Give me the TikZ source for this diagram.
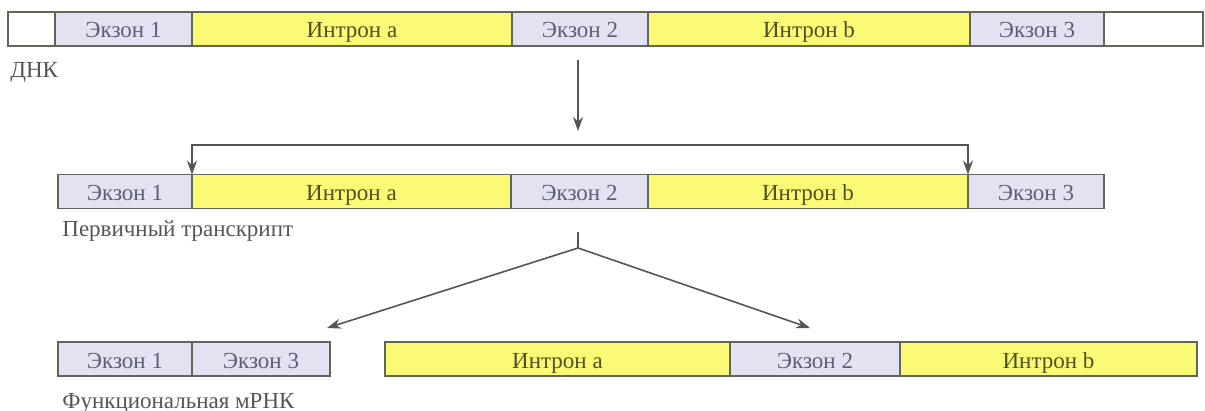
\documentclass[tikz,border=0pt]{standalone}
\usepackage{fontspec}
\setmainfont{Liberation Serif}
\newfontfamily\diagfont{Liberation Serif}
\usetikzlibrary{positioning,arrows.meta}
\definecolor{exonfill}{RGB}{226,226,242}
\definecolor{intronfill}{RGB}{250,250,118}
\definecolor{segline}{RGB}{100,100,88}
\definecolor{exontext}{RGB}{95,95,115}
\definecolor{introntext}{RGB}{80,80,30}
\definecolor{arrowgray}{RGB}{85,85,85}
\tikzset{
  segbox/.style={draw=segline,line width=0.9pt,inner sep=0pt,outer sep=0pt,minimum height=17pt,
    text height=9.5pt,text depth=0.5pt,anchor=west,font=\diagfont\fontsize{11.5}{13}\selectfont},
  exon/.style={segbox,fill=exonfill,text=exontext},
  intron/.style={segbox,fill=intronfill,text=introntext},
  blank/.style={segbox,fill=white},
  rowlabel/.style={inner sep=0pt,text=arrowgray,font=\diagfont\fontsize{11.5}{13}\selectfont},
  flow/.style={draw=arrowgray,line width=0.8pt,-{Stealth[length=7pt,width=5pt]}}
}
\newcommand{\gensegment}[5][exon]{\node[#1,minimum width=#3*0.5pt] at (#2) (#4) {#5}}

\begin{document}
\begin{tikzpicture}[x=0.5pt,y=-0.5pt]
	\useasboundingbox (0,0) rectangle (1205,411);
	% DNA
	\gensegment[blank]{8,29}{47}{d0}{};
	\gensegment{55,29}{137}{d-e1}{Экзон 1};
	\gensegment[intron]{192,29}{320}{d-ia}{Интрон a};
	\gensegment{512,29}{136}{d-e2}{Экзон 2};
	\gensegment[intron]{648,29}{322}{d-ib}{Интрон b};
	\gensegment{970,29}{134}{d-e3}{Экзон 3};
	\gensegment[blank]{1104,29}{99}{d9}{};
	\node[rowlabel,below right=8pt and 1pt of d0.south west] (dna) {ДНК};

	% primary transcript
	\gensegment{58,191.5}{134}{t-e1}{Экзон 1};
	\gensegment[intron]{192,191.5}{319}{t-ia}{Интрон a};
	\gensegment{511,191.5}{137}{t-e2}{Экзон 2};
	\gensegment[intron]{648,191.5}{320}{t-ib}{Интрон b};
	\gensegment{968,191.5}{136}{t-e3}{Экзон 3};
	\node[rowlabel,below right=6pt and 2pt of t-e1.south west] (pre) {Первичный транскрипт};

	% spliced products
	\gensegment{58,359}{134}{m-e1}{Экзон 1};
	\gensegment{192,359}{138}{m-e3}{Экзон 3};
	\gensegment[intron]{385,359}{345}{r-ia}{Интрон a};
	\gensegment{730,359}{170}{r-e2}{Экзон 2};
	\gensegment[intron]{900,359}{297}{r-ib}{Интрон b};
	\node[rowlabel,below right=8.5pt and 2pt of m-e1.south west] (mrna) {Функциональная мРНК};

	\coordinate (split) at (578,145);
	\coordinate (fork) at (578,248);
	\coordinate (tomrna) at (327,328);
	\coordinate (tointr) at (810,328);

	\draw[flow] (d-e2.south -| split) ++(0,14) -- ([yshift=7pt]split);
	\draw[flow] (split) -| (t-e1.north east);
	\draw[flow] (split) -| (t-e3.north west);
	\draw[flow,-] (t-e2.south -| fork) ++(0,24) -- (fork);
	\draw[flow] (fork) -- (tomrna);
	\draw[flow] (fork) -- (tointr);
\end{tikzpicture}
\end{document}
